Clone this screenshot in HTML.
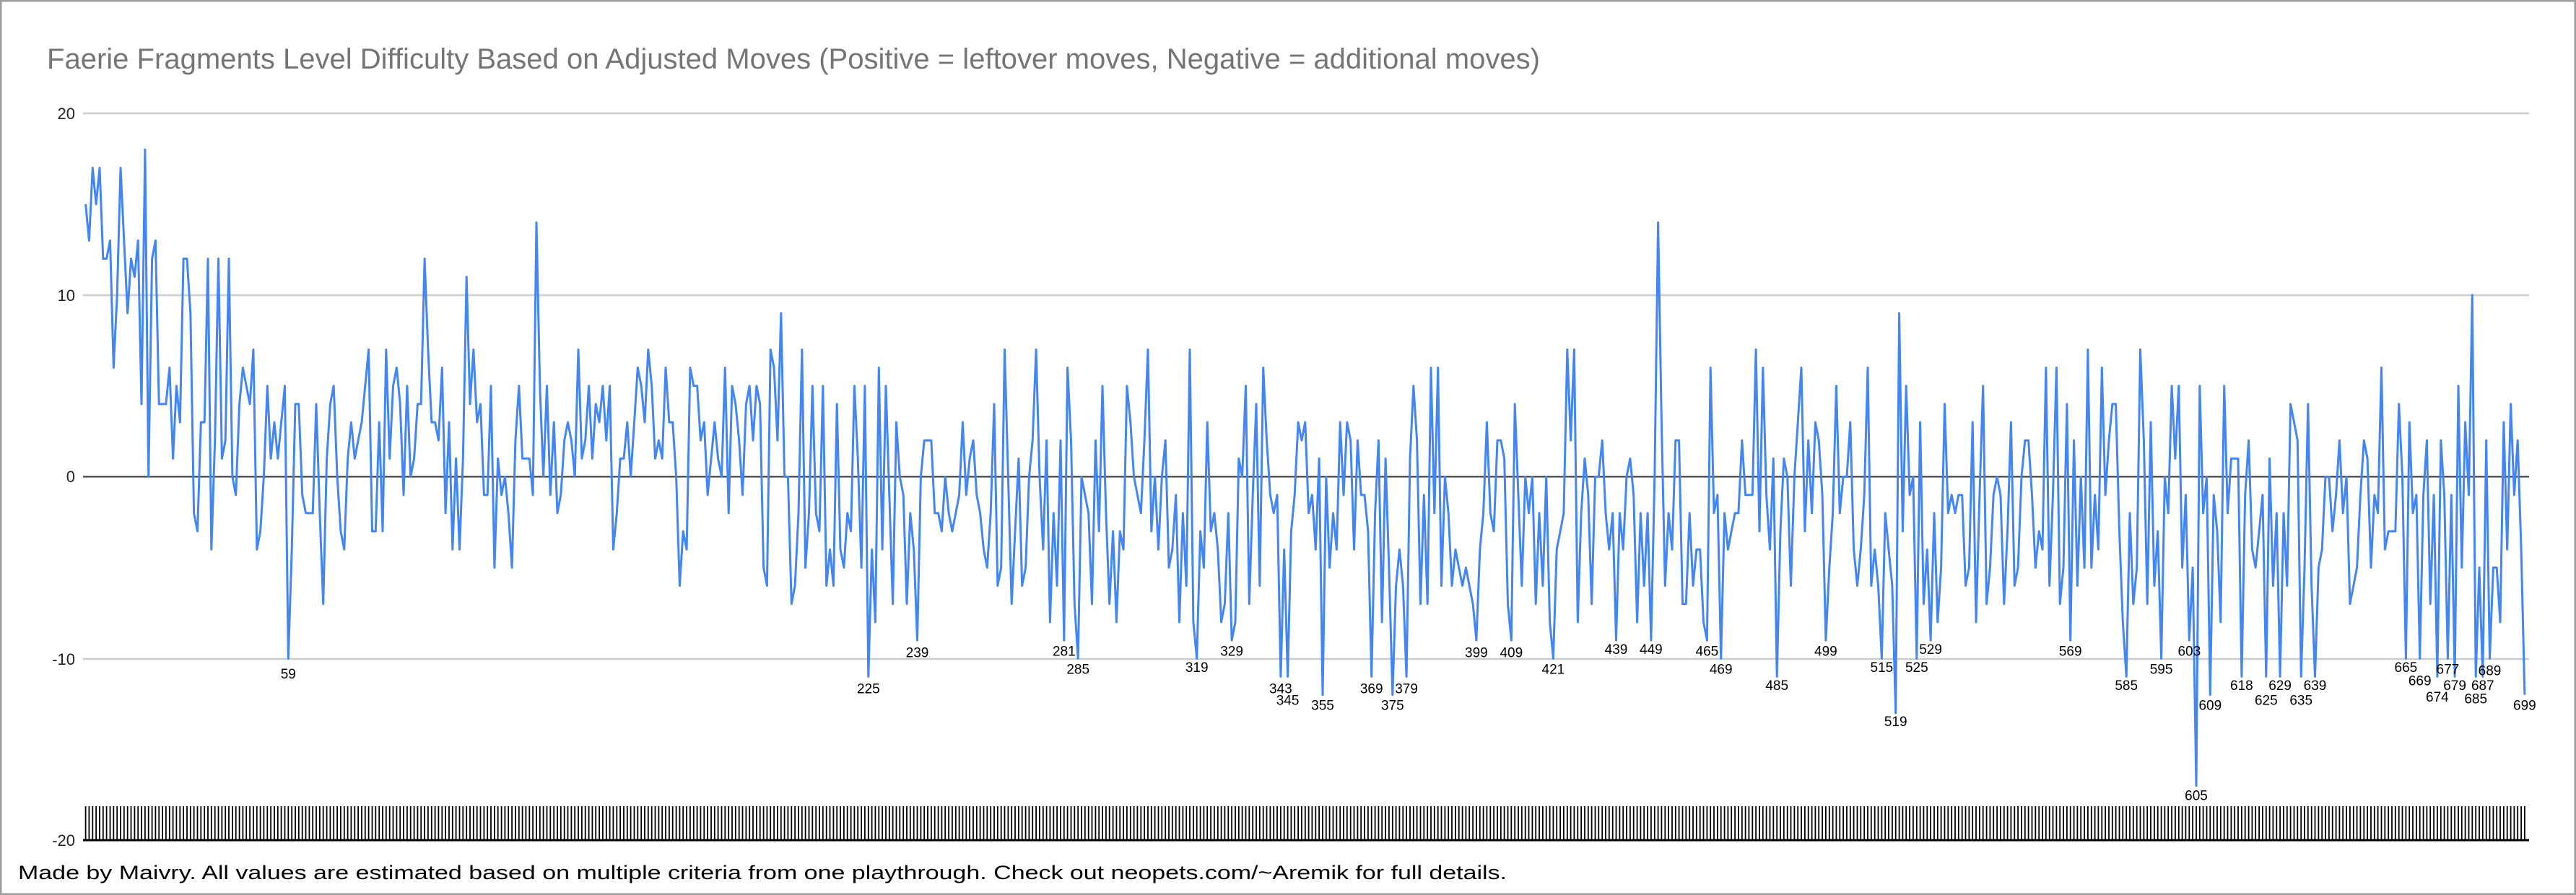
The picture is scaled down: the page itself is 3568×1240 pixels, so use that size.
<!DOCTYPE html>
<html><head><meta charset="utf-8"><style>
html,body{margin:0;padding:0;background:#fff}
svg{display:block}
</style></head><body>
<svg id="c" width="3568" height="1240" xmlns="http://www.w3.org/2000/svg">
<rect x="1" y="1" width="3566" height="1238" fill="#fff" stroke="#9e9e9e" stroke-width="3"/>
<text x="65" y="95" font-family="Liberation Sans, sans-serif" font-size="40" fill="#757575" textLength="2068" lengthAdjust="spacingAndGlyphs">Faerie Fragments Level Difficulty Based on Adjusted Moves (Positive = leftover moves, Negative = additional moves)</text>
<g stroke="#cccccc" stroke-width="2.5">
<line x1="115" y1="157" x2="3503" y2="157"/>
<line x1="115" y1="409" x2="3503" y2="409"/>
<line x1="115" y1="913" x2="3503" y2="913"/>
</g>
<line x1="115" y1="660.5" x2="3503" y2="660.5" stroke="#333" stroke-width="2"/>
<g font-family="Liberation Sans, sans-serif" font-size="22" fill="#222" text-anchor="end">
<text x="104" y="165">20</text>
<text x="104" y="417">10</text>
<text x="104" y="668">0</text>
<text x="104" y="921">-10</text>
<text x="104" y="1172">-20</text>
</g>
<g id="ticks" stroke="#000" stroke-width="1.8"></g>
<line x1="115" y1="1164" x2="3503" y2="1164" stroke="#000" stroke-width="3"/>
<polyline id="ln" fill="none" stroke="#4285f4" stroke-width="3" stroke-linejoin="round"/>
<g id="lbl" font-family="Liberation Sans, sans-serif" font-size="19" fill="#000" text-anchor="middle"></g>
<text x="25" y="1218" font-family="Liberation Sans, sans-serif" font-size="27" fill="#000" textLength="2062" lengthAdjust="spacingAndGlyphs">Made by Maivry. All values are estimated based on multiple criteria from one playthrough. Check out neopets.com/~Aremik for full details.</text>
</svg>
<script>
(function(){
var N=699,x0=118.6,dx=4.84;
function X(i){return x0+(i-1)*dx;}
function Y(v){return 660.5-v*25.175;}
var s=12345;function r(){s|=0;s=s+0x6D2B79F5|0;var t=Math.imul(s^s>>>15,1|s);t=t+Math.imul(t^t>>>7,61|t)^t;return((t^t>>>14)>>>0)/4294967296;}
var v=[0];
for(var i=1;i<=N;i++){
 var m,sd;
 if(i<=15){m=13;sd=3;}else if(i<=42){m=5;sd=6;}else if(i<=200){m=1.5;sd=3.6;}else{m=-1.5;sd=4.2;}
 var g=(r()+r()+r()-1.5)*2*sd;
 var val=Math.round(m+g);
 if(val<-8)val=-8+Math.floor(r()*3);
 if(val>7&&i>42)val=7-Math.floor(r()*4);
 v.push(val);
}
var early=[15,13,17,15,17,12,12,13,6,10,17,13,9,12,11,13,4,18,0,12,13,4,4,4,6,1,5,3,12,12,9,-2,-3,3,3,12,-4,2,12,1,2,12];
for(var k=0;k<early.length;k++)v[k+1]=early[k];
v[130]=14;v[451]=14;v[684]=10;v[98]=12;v[110]=11;v[200]=9;v[520]=9;
var mins={59:-10,225:-11,239:-9,281:-9,285:-10,319:-10,329:-9,343:-11,345:-11,355:-12,369:-11,375:-12,379:-11,399:-9,409:-9,421:-10,439:-9,449:-9,465:-9,469:-10,485:-11,499:-9,515:-10,519:-13,525:-10,529:-9,569:-9,585:-11,595:-10,603:-9,605:-17,609:-12,618:-11,625:-11,629:-11,635:-11,639:-11,665:-10,669:-10,674:-11,677:-10,679:-11,685:-11,687:-11,689:-10,699:-12};
var ly={59:410,225:419,239:397,281:396,285:407,319:406,329:396,343:419,345:426,355:429,369:419,375:429,379:419,399:397,409:397,421:407,439:395,449:395,465:396,469:407,485:417,499:396,515:406,519:439,525:406,529:395,569:396,585:417,595:407,603:396,605:484,609:429,618:417,625:426,629:417,635:426,639:417,665:406,669:414,674:424,677:407,679:417,685:425,687:417,689:408,699:429};
for(var k in mins)v[+k]=mins[k];
var pts=[];for(var i=1;i<=N;i++)pts.push(X(i).toFixed(1)+","+Y(v[i]).toFixed(1));
document.getElementById("ln").setAttribute("points",pts.join(" "));
var ns="http://www.w3.org/2000/svg";
var tg=document.getElementById("ticks");
for(var i=1;i<=N;i++){var l=document.createElementNS(ns,"line");var x=X(i).toFixed(1);l.setAttribute("x1",x);l.setAttribute("x2",x);l.setAttribute("y1","1117");l.setAttribute("y2","1164");tg.appendChild(l);}
var lg=document.getElementById("lbl");
for(var k in ly){var t=document.createElementNS(ns,"text");t.setAttribute("x",X(+k).toFixed(1));t.setAttribute("y",(ly[k]*2.276+7).toFixed(1));t.textContent=k;lg.appendChild(t);}
})();
</script>
</body></html>
